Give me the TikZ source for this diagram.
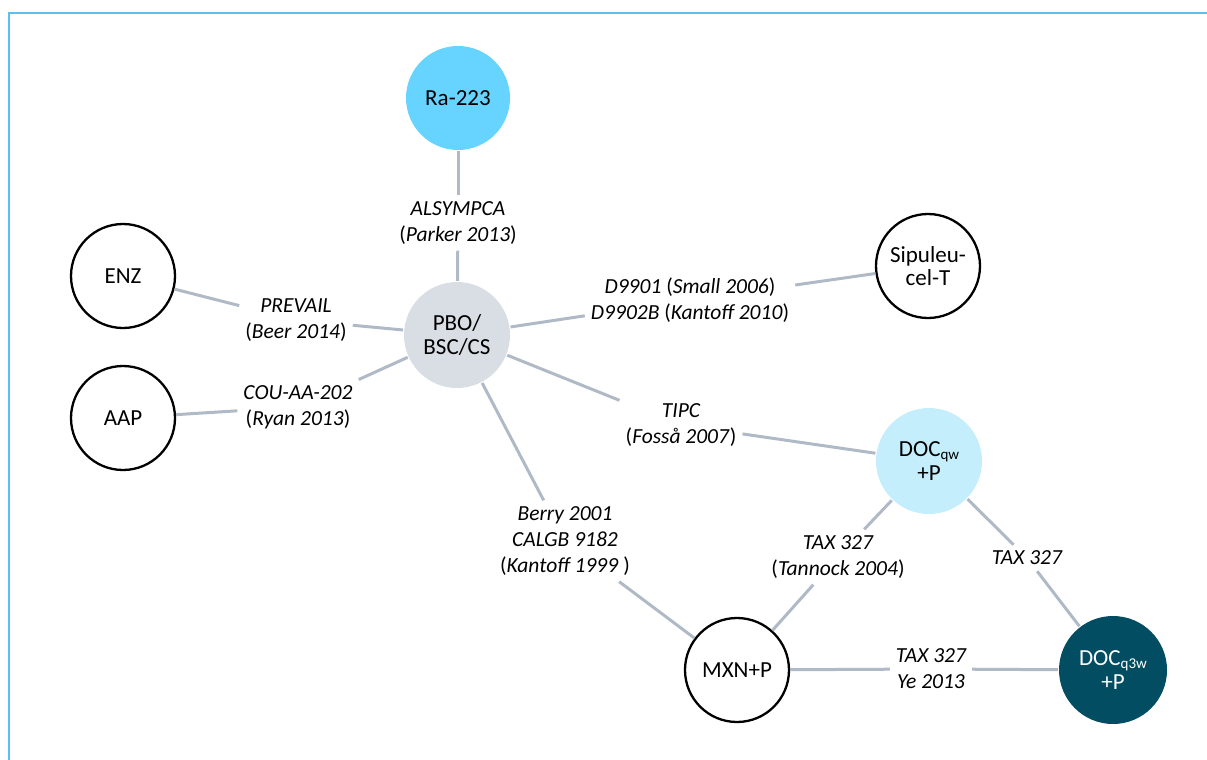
\documentclass[tikz,border=0pt]{standalone}
\usepackage{fontspec}
\setmainfont{Carlito}
\definecolor{framec}{RGB}{91,192,235}
\definecolor{edgec}{RGB}{176,186,199}
\definecolor{rac}{RGB}{102,212,255}
\definecolor{pboc}{RGB}{217,222,228}
\definecolor{docqwc}{RGB}{196,238,252}
\definecolor{docqc}{RGB}{3,77,99}
\newcommand\opar{\textup{(}}
\newcommand\cpar{\textup{)}}
\newcommand\subtxt[1]{\raisebox{-2.5pt}{\fontsize{15}{15}\selectfont #1}}
\begin{document}
\begin{tikzpicture}[x=1pt,y=-1pt,
  circ/.style={circle, draw=black, line width=2.3pt, minimum size=104pt, inner sep=0pt, align=center, font=\fontsize{23}{23.5}\selectfont},
  edge/.style={draw=edgec, line width=3pt},
  lab/.style={align=center, inner sep=6pt, font=\fontsize{21.5}{26}\selectfont\itshape}]
\useasboundingbox (0,0) rectangle (1207,760);
\draw[framec, line width=2pt] (9,760) -- (9,13.5) -- (1207,13.5);

% nodes
\node[circ, draw=none, fill=rac] (ra) at (458,98) {Ra-223};
\node[circ] (enz) at (123,276) {ENZ};
\node[circ] (aap) at (123,418) {AAP};
\node[circ, draw=none, fill=pboc, minimum size=106pt] (pbo) at (457,335) {PBO/\\BSC/CS};
\node[circ] (sip) at (928,266) {Sipuleu-\\cel-T};
\node[circ, draw=none, fill=docqwc, minimum size=106pt] (dqw) at (929,461) {DOC\subtxt{qw}\\+P};
\node[circ] (mxn) at (737,670) {MXN+P};
\node[circ, draw=none, fill=docqc, text=white, minimum size=108pt] (dq3) at (1113,670) {DOC\subtxt{q3w}\\+P};

% labels
\node[lab] (lra) at (458,223) {ALSYMPCA\\\opar Parker 2013\cpar};
\node[lab] (lenz) at (296,320) {PREVAIL\\\opar Beer 2014\cpar};
\node[lab] (laap) at (298,407) {COU-AA-202\\\opar Ryan 2013\cpar};
\node[lab] (lsip) at (690,300) {D9901 \opar Small 2006\cpar\\D9902B \opar Kantoff 2010\cpar};
\node[lab] (ltipc) at (681,425) {TIPC\\\opar Fosså 2007\cpar};
\node[lab] (lberry) at (565,541) {Berry 2001\\CALGB 9182\\\opar Kantoff 1999 \cpar};
\node[lab] (ltan) at (838,557) {TAX 327\\\opar Tannock 2004\cpar};
\node[lab] (ltax) at (1027,558) {TAX 327};
\node[lab] (lye) at (931,669) {TAX 327\\Ye 2013};

% edges
\draw[edge] (ra) -- (lra);  \draw[edge] (lra) -- (pbo);
\draw[edge] (enz) -- (lenz); \draw[edge] (lenz) -- (pbo);
\draw[edge] (aap) -- (laap); \draw[edge] (laap) -- (pbo);
\draw[edge] (sip) -- (lsip); \draw[edge] (lsip) -- (pbo);
\draw[edge] (pbo) -- (ltipc); \draw[edge] (ltipc) -- (dqw);
\draw[edge] (pbo) -- (lberry); \draw[edge] (lberry) -- (mxn);
\draw[edge] (mxn) -- (ltan); \draw[edge] (ltan) -- (dqw);
\draw[edge] (dqw) -- (ltax); \draw[edge] (ltax) -- (dq3);
\draw[edge] (mxn) -- (lye); \draw[edge] (lye) -- (dq3);
\end{tikzpicture}
\end{document}
